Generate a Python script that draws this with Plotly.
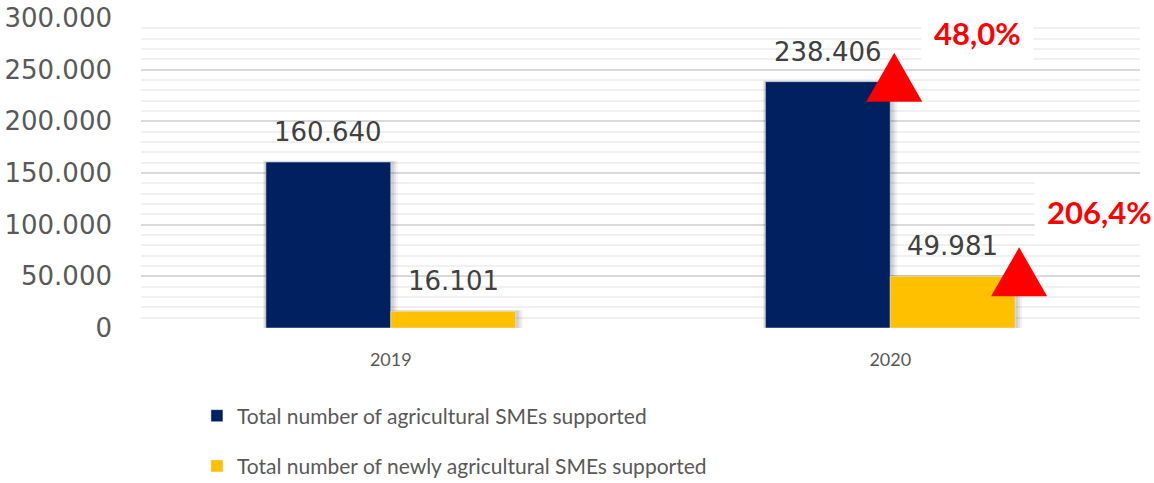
import plotly.graph_objects as go

years = ["2019", "2020"]
total_smes = [160640, 238406]
new_smes = [16101, 49981]
growth_labels = ["48,0%", "206,4%"]
series_names = [
    "Total number of agricultural SMEs supported",
    "Total number of newly agricultural SMEs supported",
]

NAVY = "#002060"
GOLD = "#FFC000"
RED = "#FF0000"
FONT = "Lato, 'Open Sans', sans-serif"
NUM_FONT = "'DejaVu Sans', Lato, sans-serif"

x_pos = list(range(len(years)))
BAR_W = 0.25

fig = go.Figure()

# soft drop shadow behind each bar
px_x = 1 / 499.0
px_y = 300000 / 310.0
for i in x_pos:
    for offset, val in ((-BAR_W, total_smes[i]), (0.0, new_smes[i])):
        x0 = i + offset
        x1 = x0 + BAR_W
        for k, op in ((7, 0.05), (5, 0.06), (3, 0.08)):
            fig.add_shape(
                type="rect", layer="between",
                x0=x0 - k * px_x * 0.4, x1=x1 + k * px_x,
                y0=-k * px_y, y1=val + k * px_y * 0.2,
                line_width=0, fillcolor=f"rgba(0,0,0,{op})",
            )

fig.add_trace(go.Bar(
    x=x_pos, y=total_smes, name=series_names[0], marker_color=NAVY,
    legendgroup="a",
))
fig.add_trace(go.Bar(
    x=x_pos, y=new_smes, name=series_names[1], marker_color=GOLD,
    legendgroup="b",
))

# value labels above each bar
for i in x_pos:
    for offset, val in ((-BAR_W / 2, total_smes[i]), (BAR_W / 2, new_smes[i])):
        fig.add_annotation(
            x=i + offset, y=val, text=f"{val:,}".replace(",", "."),
            showarrow=False, yanchor="bottom", yshift=13,
            font=dict(size=26, color="#404040", family=NUM_FONT),
        )

# growth triangles at the top-right corner of each 2020 bar
tri_w = 56 * px_x
for val, edge in ((total_smes[1], 1.0), (new_smes[1], 1.0 + BAR_W)):
    cx = edge + 4 * px_x
    base = val - 20 * px_y
    apex = val + 29 * px_y
    fig.add_trace(go.Scatter(
        x=[cx - tri_w / 2, cx + tri_w / 2, cx, cx - tri_w / 2],
        y=[base, base, apex, base],
        fill="toself", fillcolor=RED, mode="lines",
        line=dict(color=RED, width=0), showlegend=False,
        hoverinfo="skip", cliponaxis=False,
    ))

# growth percentage labels
for label, val, xa, dy in ((growth_labels[0], total_smes[1], 1.175, 47000),
                           (growth_labels[1], new_smes[1], 1.418, 62000)):
    fig.add_annotation(
        x=xa, y=val + dy,
        text=f"<b>{label}</b>", showarrow=False,
        font=dict(size=31, color=RED, family=FONT),
        bgcolor="white", borderpad=12,
    )

fig.update_layout(
    width=1154, height=483,
    margin=dict(l=141, r=14, t=18, b=155),
    paper_bgcolor="white", plot_bgcolor="white",
    separators=",.",
    barmode="group", bargap=0.5, bargroupgap=0,
    font=dict(family=FONT, color="#595959"),
    showlegend=True,
    legend=dict(
        x=0.056, y=0.087, xref="paper", yref="container",
        xanchor="left", yanchor="middle",
        orientation="v", tracegroupgap=20,
        font=dict(size=21, color="#595959", family=FONT),
        bgcolor="rgba(0,0,0,0)",
    ),
)

fig.update_xaxes(
    range=[-0.5, 1.5], tickvals=x_pos, ticktext=years,
    showgrid=False, zeroline=False, showline=False,
    tickfont=dict(size=18, color="#595959", family=FONT),
    ticks="", ticklabelstandoff=19, automargin=False,
)
fig.update_yaxes(
    range=[0, 300000], dtick=50000, tickformat=",.0f",
    showgrid=True, gridcolor="#D9D9D9", gridwidth=1.5,
    minor=dict(dtick=10000, showgrid=True, gridcolor="#F0F0F0", gridwidth=1.5),
    zeroline=False, showline=False,
    tickfont=dict(size=26, color="#595959", family=NUM_FONT),
    ticks="", ticklabelstandoff=28, automargin=False,
)

fig.write_html("out.html")
